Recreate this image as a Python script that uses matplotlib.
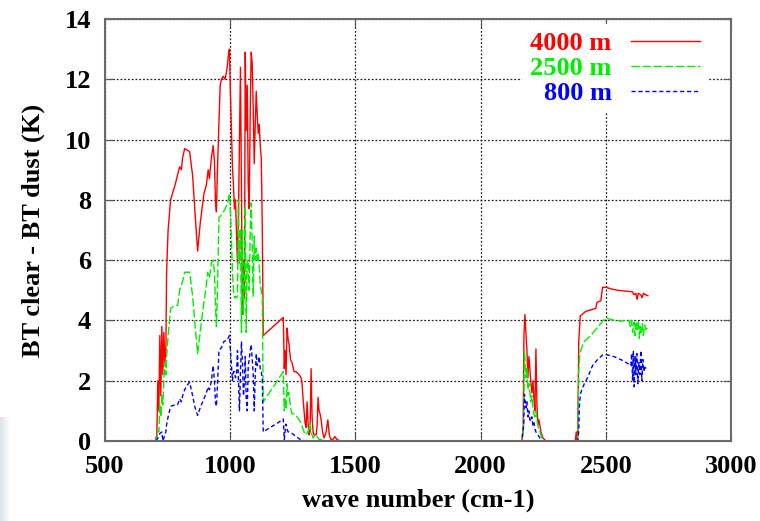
import matplotlib
matplotlib.use('Agg')
import matplotlib.pyplot as plt
import numpy as np

plt.rcParams['font.family'] = ['Liberation Serif', 'DejaVu Serif']
plt.rcParams['font.weight'] = 'bold'
plt.rcParams['font.size'] = 19

# 4000 m
wn_4000 = [650, 700, 707, 711, 715, 719, 723, 727, 731, 735, 739, 743, 746, 752, 762, 780, 798, 805, 810,
           818, 828, 838, 850, 860, 870, 880, 895, 905, 912, 917, 925, 932, 937, 941, 945, 949, 955, 960,
           965, 972, 980, 988, 994, 997, 1001, 1005, 1009, 1013, 1017, 1021, 1025, 1029, 1033, 1037, 1041,
           1045, 1049, 1053, 1057, 1060, 1064, 1068, 1072, 1076, 1080, 1084, 1088, 1092, 1096, 1100, 1104,
           1108, 1112, 1116, 1120, 1124, 1128, 1132, 1212, 1216, 1219, 1223, 1227, 1231, 1235, 1241, 1247,
           1255, 1263, 1275, 1283, 1287, 1291, 1295, 1299, 1303, 1307, 1311, 1315, 1319, 1323, 1327, 1331,
           1335, 1343, 1347, 1351, 1355, 1359, 1363, 1369, 1375, 1383, 1390, 1396, 1402, 1410, 1418, 1426,
           1434, 1450, 2165, 2170, 2173, 2177, 2181, 2185, 2189, 2193, 2197, 2201, 2205, 2209, 2213, 2217,
           2221, 2225, 2229, 2233, 2237, 2241, 2245, 2249, 2255, 2261, 2378, 2382, 2385, 2388, 2392, 2398,
           2420, 2440, 2460, 2465, 2480, 2487, 2500, 2520, 2546, 2570, 2606, 2612, 2620, 2625, 2630, 2640,
           2645, 2650, 2660, 2668]
bt_4000 = [0, 0, 0.2, 2.0, 1.0, 3.5, 1.5, 3.8, 2.2, 3.6, 2.6, 3.0, 5.6, 7.0, 8.0, 8.5, 9.1, 9.0, 9.4,
           9.7, 9.65, 9.6, 8.8, 7.5, 6.3, 7.2, 8.2, 8.5, 9.0, 8.7, 9.4, 9.8, 9.3, 8.0, 7.6, 9.0, 10.5, 11.8,
           12.0, 12.1, 12.0, 12.4, 12.9, 13.0, 11.5, 10.3, 9.1, 8.5, 7.7, 8.0, 7.0, 5.9, 7.5, 10.0, 12.4,
           8.1, 4.2, 6.0, 4.75, 12.9, 10.3, 11.8, 8.5, 7.7, 11.0, 12.9, 12.5, 11.0, 9.2, 10.5, 11.6,
           10.8, 10.2, 10.5, 9.8, 9.4, 7.2, 3.5, 4.1, 2.4, 3.0, 2.2, 3.75, 3.4, 3.2, 2.7, 2.6,
           2.3, 2.3, 2.2, 2.1, 1.9, 1.4, 1.0, 0.6, 0.45, 1.3, 0.6, 0.2, 0.3, 2.4, 0.8, 0.3,
           0.2, 0.2, 0.5, 1.45, 1.0, 0.9, 0.7, 0.3, 0.1, 0.3, 0.7, 0.2, 0.05, 0.05, 0.15, 0.05,
           0.02, 0, 0, 0.5, 3.5, 4.2, 3.6, 3.0, 2.1, 2.8, 2.4, 1.9, 1.6, 2.0, 1.4, 1.0,
           3.05, 1.2, 0.55, 0.7, 0.5, 0.3, 0.2, 0.1, 0.05, 0, 0, 0.3, 0.0, 0.2, 3.3, 4.15,
           4.3, 4.35, 4.4, 4.6, 4.65, 5.1, 5.1, 5.05, 5.0, 4.98, 4.95, 4.85, 4.9, 4.7, 4.9, 4.85,
           4.75, 4.9, 4.85, 4.82]

# 2500 m
wn_2500 = [650, 700, 707, 711, 715, 719, 723, 727, 731, 735, 739, 743, 746, 752, 762, 780, 790, 798, 810,
           818, 828, 838, 850, 860, 870, 880, 895, 905, 910, 917, 925, 932, 937, 941, 945, 949, 955, 965,
           980, 990, 997, 1001, 1005, 1009, 1013, 1017, 1021, 1025, 1029, 1033, 1037, 1041, 1045, 1049,
           1053, 1057, 1060, 1064, 1068, 1072, 1076, 1080, 1084, 1088, 1092, 1096, 1100, 1104, 1108, 1112,
           1116, 1120, 1124, 1128, 1132, 1212, 1216, 1219, 1223, 1227, 1231, 1235, 1241, 1247, 1255, 1263,
           1275, 1283, 1287, 1295, 1303, 1307, 1315, 1319, 1323, 1331, 1339, 1347, 1355, 1375, 1400,
           2165, 2172, 2175, 2181, 2185, 2189, 2193, 2197, 2201, 2205, 2209, 2213, 2217, 2221, 2225, 2229,
           2237, 2245, 2255, 2388, 2392, 2396, 2404, 2414, 2440, 2460, 2480, 2500, 2520, 2540, 2560, 2593,
           2598, 2603, 2607, 2612, 2617, 2621, 2625, 2630, 2634, 2638, 2642, 2646, 2650, 2655, 2660, 2666]
bt_2500 = [0, 0, 0.1, 0.35, 0.3, 1.2, 0.8, 1.5, 1.2, 2.0, 2.6, 2.2, 2.8, 3.5, 4.4, 4.5, 4.5, 5.0, 5.3,
           5.6, 5.6, 5.6, 4.8, 3.8, 2.9, 3.6, 4.6, 5.2, 5.6, 5.4, 5.9, 6.0, 5.6, 4.5, 3.8, 5.0, 7.4, 7.5,
           7.7, 7.9, 8.2, 7.6, 6.7, 5.6, 5.0, 4.75, 4.8, 4.75, 4.8, 8.0, 5.9, 7.0, 3.6, 7.0,
           4.2, 5.5, 7.8, 3.6, 6.0, 5.9, 5.0, 7.0, 7.9, 6.5, 4.8, 6.8, 6.0, 6.4, 6.0, 6.2,
           5.8, 5.2, 5.0, 4.8, 1.3, 2.3, 1.0, 1.4, 1.1, 1.9, 1.5, 1.6, 1.1, 0.9, 0.9, 0.85,
           0.7, 0.6, 0.5, 0.3, 0.2, 0.25, 0.4, 0.6, 0.3, 0.1, 0.2, 0.15, 0.05, 0.02, 0,
           0, 0.5, 3.0, 2.1, 2.4, 1.7, 1.9, 1.6, 1.3, 1.5, 1.1, 0.9, 0.8, 1.0, 0.7, 0.5,
           0.3, 0.1, 0, 0, 2.3, 2.9, 3.1, 3.3, 3.5, 3.7, 3.9, 4.1, 4.03, 4.0, 3.98, 4.0,
           3.8, 4.0, 3.6, 3.95, 3.5, 3.9, 3.7, 4.0, 3.4, 3.8, 3.6, 3.9, 3.5, 3.85, 3.7, 3.75]

# 800 m
wn_800 = [650, 705, 711, 719, 727, 731, 735, 739, 743, 746, 752, 762, 780, 790, 798, 805, 810, 818, 828,
          838, 850, 860, 870, 880, 895, 905, 912, 917, 925, 932, 937, 941, 945, 949, 955, 965, 975, 988,
          997, 1001, 1005, 1009, 1013, 1017, 1021, 1025, 1029, 1033, 1037, 1041, 1045, 1049, 1053, 1057,
          1060, 1064, 1068, 1072, 1076, 1080, 1084, 1088, 1092, 1096, 1100, 1104, 1108, 1112, 1116, 1120,
          1124, 1128, 1132, 1150, 1170, 1190, 1212, 1216, 1219, 1223, 1227, 1231, 1235, 1247, 1263, 1280,
          1300, 2165, 2172, 2175, 2181, 2185, 2189, 2193, 2197, 2201, 2205, 2209, 2213, 2217, 2221, 2229,
          2237, 2245, 2388, 2392, 2395, 2400, 2414, 2427, 2447, 2467, 2487, 2500, 2533, 2573, 2600, 2603,
          2607, 2610, 2613, 2617, 2620, 2624, 2628, 2632, 2636, 2640, 2644, 2648, 2652, 2656, 2660]
bt_800 = [0, 0, 0.1, 0.25, 0.3, 0.0, 0.1, 0.2, 0.3, 0.55, 0.8, 1.15, 1.2, 1.2, 1.4, 1.3, 1.5, 1.7, 1.85,
          1.95, 1.5, 1.1, 0.85, 1.1, 1.4, 1.6, 1.8, 1.7, 2.0, 2.5, 2.0, 1.3, 1.15, 1.8, 3.0, 3.1, 3.3, 3.35,
          3.5, 3.0, 2.5, 2.0, 2.3, 2.3, 2.1, 2.2, 3.0, 2.0, 1.0, 2.3, 3.3, 2.6, 1.5, 2.0,
          2.8, 1.4, 1.0, 2.5, 2.7, 3.0, 3.2, 2.7, 2.2, 1.0, 2.2, 2.9, 2.5, 2.6, 2.8, 2.4,
          2.3, 2.1, 0.3, 0.4, 0.5, 0.6, 0.73, 0.05, 0.3, 0.56, 0.4, 0.3, 0.3, 0.25, 0.15, 0.05,
          0, 0, 0.5, 1.55, 1.1, 1.3, 0.8, 1.0, 0.7, 0.65, 0.8, 0.5, 0.6, 0.4, 0.3, 0.2,
          0.1, 0, 0, 0.35, 1.25, 1.6, 1.9, 2.1, 2.5, 2.7, 2.85, 2.87, 2.8, 2.65, 2.5, 2.9,
          2.0, 3.0, 1.8, 2.8, 2.2, 2.9, 1.9, 2.6, 2.2, 3.0, 2.0, 2.7, 2.3, 2.5, 2.4]

fig = plt.figure(figsize=(7.6, 5.21), dpi=100)

# faint slide background in the lower left corner
bg = fig.add_axes([0, 0, 0.012, 0.2])
grad = np.linspace(0, 1, 50).reshape(1, -1)
bg.imshow(grad, aspect='auto', cmap=matplotlib.colors.LinearSegmentedColormap.from_list('bg', ['#dde0ee', '#ffffff']))
bg.axis('off')

ax = fig.add_axes([105/760, 1 - 441/521, 626/760, 422/521])

ax.plot(wn_4000, bt_4000, c='#ff0000', lw=1.0, label='4000 m')
ax.plot(wn_2500, bt_2500, c='#00ee00', lw=1.0, ls=(0, (6, 2)), label='2500 m')
ax.plot(wn_800, bt_800, c='#0000ff', lw=1.0, ls=(0, (3, 2)), label='800 m')

ax.set_xlim(500, 3000)
ax.set_ylim(0, 14)
ax.set_xticks([500, 1000, 1500, 2000, 2500, 3000])
ax.set_yticks(range(0, 15, 2))
ax.grid(True, color='#222222', ls=(0, (1.5, 1.5)), lw=0.9)
ax.tick_params(direction='in', top=True, right=True, length=6, color='#555555', pad=10)
for s in ax.spines.values():
    s.set_color('#6a6a6a')
    s.set_linewidth(1.5)

ax.set_xlabel('wave number (cm-1)', fontweight='bold', labelpad=8)
ax.set_ylabel('BT clear - BT dust (K)', fontweight='bold', labelpad=14)

leg = ax.legend(loc='upper right', bbox_to_anchor=(708/760, 1 - 24/521), bbox_transform=fig.transFigure,
                markerfirst=False, labelcolor='linecolor', handlelength=2.6, handletextpad=0.75,
                labelspacing=0.05, borderpad=0.3, borderaxespad=0, frameon=True, fancybox=False,
                facecolor='white', edgecolor='none', framealpha=1)
for t in leg.get_texts():
    t.set_ha('right')

fig.savefig('out.png', dpi=100)
